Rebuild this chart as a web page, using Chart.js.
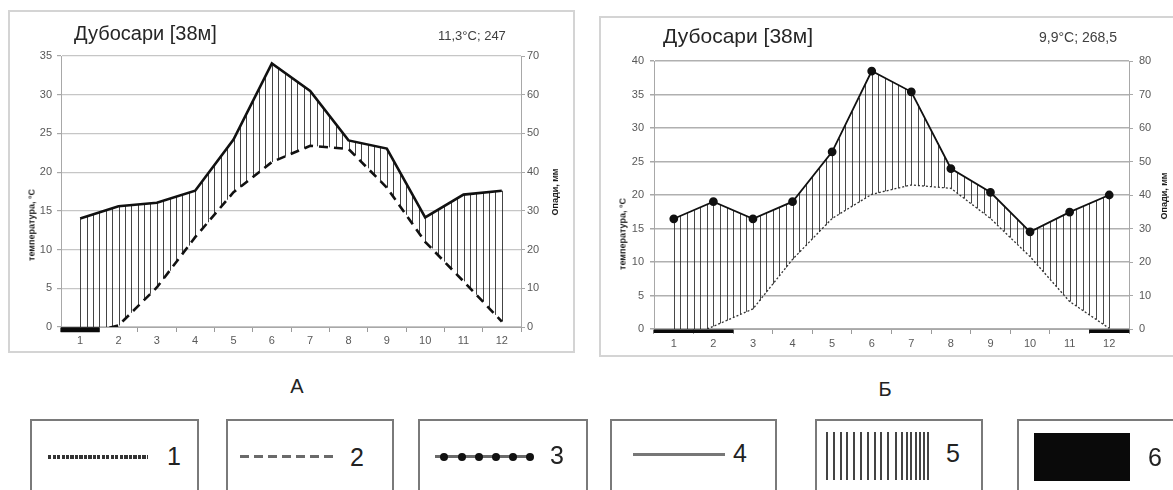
<!DOCTYPE html>
<html>
<head>
<meta charset="utf-8">
<script src="https://cdn.jsdelivr.net/npm/chart.js@4.4.1/dist/chart.umd.min.js"></script>
<style>
html,body{margin:0;padding:0;background:#fff;}
body{width:1173px;height:490px;overflow:hidden;position:relative;font-family:'Liberation Sans',Arial,sans-serif;}
.frame{position:absolute;box-sizing:border-box;border:2px solid #d4d4d4;}
.wrap{position:absolute;}
.t{position:absolute;white-space:nowrap;line-height:1;transform:translateY(-50%);}
.c{position:absolute;white-space:nowrap;line-height:1;transform:translate(-50%,-50%);}
.yt{position:absolute;white-space:nowrap;line-height:1;font-weight:bold;font-size:9px;color:#1a1a1a;transform:translate(-50%,-50%) rotate(-90deg);}
.box{position:absolute;top:419px;height:90px;box-sizing:border-box;border:2.5px solid #7a7a7a;}
.num{position:absolute;font-size:25px;color:#222;line-height:1;transform:translate(-50%,-50%);}
.abs{position:absolute;}
</style>
</head>
<body>
<div class="frame" style="left:8px;top:10px;width:567px;height:343px;"></div>
<div class="wrap" style="left:8px;top:10px;width:567px;height:343px;"><canvas id="chartA"></canvas></div>
<div class="t" style="left:74px;top:33px;font-size:20px;color:#262626;">Дубосари [38м]</div>
<div class="t" style="left:438px;top:35px;font-size:13px;color:#404040;">11,3°C; 247</div>
<div class="yt" style="left:32px;top:225px;">температура, °С</div>
<div class="yt" style="left:555px;top:192px;">Опади, мм</div>

<div class="frame" style="left:599px;top:16px;width:581px;height:341px;"></div>
<div class="wrap" style="left:599px;top:16px;width:581px;height:341px;"><canvas id="chartB"></canvas></div>
<div class="t" style="left:663px;top:35px;font-size:21px;color:#262626;">Дубосари [38м]</div>
<div class="t" style="left:1039px;top:37px;font-size:14px;color:#404040;">9,9°C; 268,5</div>
<div class="yt" style="left:623px;top:234px;">температура, °С</div>
<div class="yt" style="left:1164px;top:196px;">Опади, мм</div>

<div class="c" style="left:297px;top:386px;font-size:20px;color:#222;">А</div>
<div class="c" style="left:885px;top:389px;font-size:20px;color:#222;">Б</div>

<div class="box" style="left:30px;width:169px;"></div>
<div class="abs" style="left:48px;top:455px;width:100px;height:4px;background:repeating-linear-gradient(90deg,#333 0 3px,transparent 3px 4.5px);"></div>
<div class="num" style="left:174px;top:456px;">1</div>

<div class="box" style="left:226px;width:168px;"></div>
<div class="abs" style="left:240px;top:455px;width:98px;height:3px;background:repeating-linear-gradient(90deg,#6a6a6a 0 9px,transparent 9px 14px);"></div>
<div class="num" style="left:357px;top:457px;">2</div>

<div class="box" style="left:418px;width:170px;"></div>
<div class="abs" style="left:435px;top:455px;width:98px;height:3px;background:#6a6a6a;"></div>
<div id="dots3"></div>
<div class="num" style="left:557px;top:455px;">3</div>

<div class="box" style="left:610px;width:167px;"></div>
<div class="abs" style="left:633px;top:453px;width:92px;height:3px;background:#777;"></div>
<div class="num" style="left:740px;top:453px;">4</div>

<div class="box" style="left:815px;width:168px;"></div>
<div id="hatch5"></div>
<div class="num" style="left:953px;top:453px;">5</div>

<div class="box" style="left:1017px;width:180px;"></div>
<div class="abs" style="left:1034px;top:433px;width:96px;height:48px;background:#0a0a0a;"></div>
<div class="num" style="left:1155px;top:457px;">6</div>

<script>
// ---- data (month numbers, °C, mm) ----
const months = ['1','2','3','4','5','6','7','8','9','10','11','12'];

const tempA   = [-1.0, 0.2, 5.1, 11.6, 17.4, 21.3, 23.4, 23.0, 18.0, 11.0, 5.9, 0.7];
const precipA = [28.0, 31.2, 32.1, 35.2, 48.4, 68.1, 61.0, 48.2, 46.1, 28.3, 34.2, 35.2];
const frostMonthsA = [1];
const tempAxisA   = [0, 35, 5];
const precipAxisA = [0, 70, 10];

const tempB   = [-2.0, 0.4, 3.0, 10.4, 16.5, 20.1, 21.5, 21.0, 16.5, 10.8, 4.1, 0.1];
const precipB = [32.9, 38.0, 32.9, 38.0, 52.9, 77.0, 70.8, 47.9, 40.8, 29.0, 34.9, 40.0];
const frostMonthsB = [1, 2, 12];
const tempAxisB   = [0, 40, 5];
const precipAxisB = [0, 80, 10];

// ---- legend decorations ----
(function(){
  const d3 = document.getElementById('dots3');
  [444, 461.5, 479, 496, 513, 530].forEach(x => {
    const e = document.createElement('div');
    e.className = 'abs';
    e.style.cssText = `left:${x-4}px;top:452.5px;width:8px;height:8px;border-radius:50%;background:#111;`;
    d3.appendChild(e);
  });
  const h5 = document.getElementById('hatch5');
  [826,833,840,846,853,860,867,874,880,887,895,901,906,910,915,919,923,927].forEach(x => {
    const e = document.createElement('div');
    e.className = 'abs';
    e.style.cssText = `left:${x}px;top:432px;width:1.6px;height:48px;background:#444;`;
    h5.appendChild(e);
  });
})();

Chart.defaults.font.family = "'Liberation Sans', Arial, sans-serif";

const hatchPlugin = {
  id: 'hatch',
  beforeDatasetsDraw(chart, args, opts) {
    const p = chart.getDatasetMeta(0).data;
    const t = chart.getDatasetMeta(1).data;
    const area = chart.chartArea;
    const ctx = chart.ctx;
    const n = opts.perMonth;
    ctx.save();
    ctx.strokeStyle = opts.color;
    ctx.lineWidth = opts.width;
    ctx.beginPath();
    for (let i = 0; i < p.length; i++) {
      const steps = i < p.length - 1 ? n : 1;
      const j = Math.min(i + 1, p.length - 1);
      for (let k = 0; k < steps; k++) {
        const f = k / n;
        const x = p[i].x + (p[j].x - p[i].x) * f;
        const yTop = p[i].y + (p[j].y - p[i].y) * f;
        let yBot = t[i].y + (t[j].y - t[i].y) * f;
        yBot = Math.min(yBot, area.bottom);
        if (yBot - yTop > 1) {
          const xx = Math.round(x) + 0.5;
          ctx.moveTo(xx, yTop);
          ctx.lineTo(xx, yBot);
        }
      }
    }
    ctx.stroke();
    ctx.restore();
  }
};

function buildChart(id, cfg) {
  const frostData = months.map(m => cfg.frost.includes(Number(m)) ? [-cfg.frostThick, 0] : null);
  const tickFont = {size: 11};
  const tickColor = '#595959';
  return new Chart(document.getElementById(id), {
    data: {
      labels: months,
      datasets: [
        {type: 'line', label: 'Опади', data: cfg.precip, yAxisID: 'yR',
         borderColor: '#111', borderWidth: cfg.pw, pointRadius: cfg.pr, pointHoverRadius: cfg.pr,
         pointBackgroundColor: '#111', pointBorderColor: '#111', tension: 0, order: 2},
        {type: 'line', label: 'Температура', data: cfg.temp, yAxisID: 'yL',
         borderColor: cfg.tc, borderWidth: cfg.tw, borderDash: cfg.dash, pointRadius: 0,
         tension: 0, order: 3, clip: {left: 0, top: 0, right: 0, bottom: 0}},
        {type: 'bar', label: 'Мороз', data: frostData, yAxisID: 'yL',
         backgroundColor: '#0a0a0a', borderWidth: 0, barPercentage: 1, categoryPercentage: 1,
         clip: false, order: 1}
      ]
    },
    options: {
      responsive: true, maintainAspectRatio: false, animation: false,
      layout: {padding: {top: cfg.padTop, left: 0, right: 0, bottom: 0}},
      plugins: {legend: {display: false}, tooltip: {enabled: false}, title: {display: false},
        hatch: {perMonth: 6, color: cfg.hc, width: 1}},
      scales: {
        x: {type: 'category', offset: true,
            grid: {offset: true, drawOnChartArea: false, drawTicks: true, tickLength: 5, tickColor: '#9a9a9a'},
            border: {display: true, color: '#a8a8a8'},
            ticks: {font: tickFont, color: tickColor, padding: cfg.xpad, maxRotation: 0, autoSkip: false},
            afterFit: s => { s.height = cfg.xh; }},
        yL: {position: 'left', min: cfg.tAxis[0], max: cfg.tAxis[1],
            ticks: {stepSize: cfg.tAxis[2], font: tickFont, color: tickColor, padding: cfg.lpad},
            grid: {color: cfg.gc, lineWidth: cfg.gw, tickLength: 4, tickColor: '#a8a8a8'},
            border: {display: true, color: '#a8a8a8'},
            afterFit: s => { s.width = cfg.lw; }},
        yR: {position: 'right', min: cfg.pAxis[0], max: cfg.pAxis[1],
            ticks: {stepSize: cfg.pAxis[2], font: tickFont, color: tickColor, padding: cfg.rpad},
            grid: {drawOnChartArea: false, tickLength: 4, tickColor: '#a8a8a8'},
            border: {display: true, color: '#a8a8a8'},
            afterFit: s => { s.width = cfg.rw; }}
      }
    },
    plugins: [hatchPlugin]
  });
}

buildChart('chartA', {
  temp: tempA, precip: precipA, frost: frostMonthsA, tAxis: tempAxisA, pAxis: precipAxisA,
  pw: 2.6, pr: 0, tc: '#111', tw: 2.6, dash: [9, 6], hc: 'rgba(35,35,35,0.85)',
  frostThick: 0.65, padTop: 46, lw: 53, rw: 54, xh: 26, xpad: 2, lpad: 5, rpad: 2,
  gc: '#c6c6c6', gw: 1.2
});

buildChart('chartB', {
  temp: tempB, precip: precipB, frost: frostMonthsB, tAxis: tempAxisB, pAxis: precipAxisB,
  pw: 1.8, pr: 3.5, tc: '#333', tw: 1.3, dash: [2, 2], hc: 'rgba(40,40,40,0.85)',
  frostThick: 0.55, padTop: 45, lw: 55, rw: 51, xh: 28, xpad: 3, lpad: 6, rpad: 6,
  gc: '#b0b0b0', gw: 1.5
});
</script>
</body>
</html>
